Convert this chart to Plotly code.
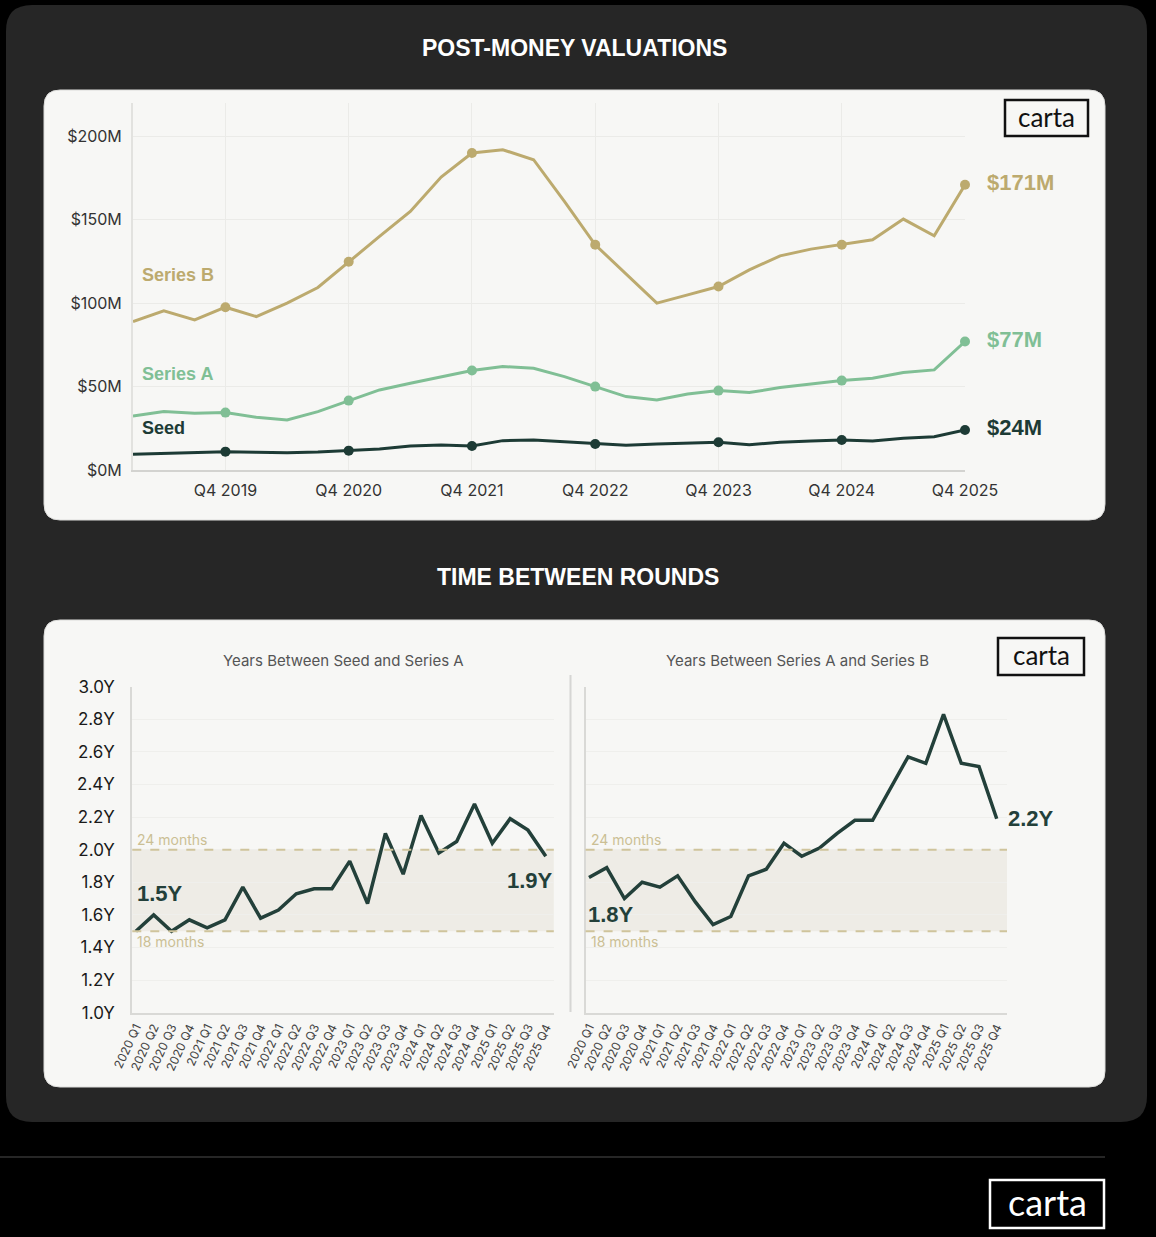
import plotly.graph_objects as go

W, H = 1156, 1237

# ---------------- DATA ----------------
top_quarters = ["Q1 2019", "Q2 2019", "Q3 2019", "Q4 2019",
                "Q1 2020", "Q2 2020", "Q3 2020", "Q4 2020",
                "Q1 2021", "Q2 2021", "Q3 2021", "Q4 2021",
                "Q1 2022", "Q2 2022", "Q3 2022", "Q4 2022",
                "Q1 2023", "Q2 2023", "Q3 2023", "Q4 2023",
                "Q1 2024", "Q2 2024", "Q3 2024", "Q4 2024",
                "Q1 2025", "Q2 2025", "Q3 2025", "Q4 2025"]
top_ticks = ["Q4 2019", "Q4 2020", "Q4 2021", "Q4 2022", "Q4 2023", "Q4 2024", "Q4 2025"]

seed_val = [9.4, 10, 10.6, 11, 10.6, 10.4, 10.8, 11.6, 12.6, 14.4, 15, 14.4, 17.6, 18,
            17, 15.6, 14.8, 15.6, 16, 16.6, 15.2, 16.6, 17.4, 18, 17.4, 19, 20, 24]
series_a_val = [32.4, 35, 34, 34.4, 31.6, 30, 35, 41.6, 48, 52, 56, 59.6, 62, 61,
                56, 50, 44, 42, 45.6, 47.6, 46.4, 49.4, 51.6, 53.6, 55, 58.4, 60, 77]
series_b_val = [89, 95.4, 90, 97.6, 92, 100, 109.4, 124.8, 140, 155, 175.6, 190, 192, 186,
                161, 135, 117.6, 100, 105, 110, 120, 128.4, 132.4, 135, 138, 150.4, 140.4, 171]

val_ticks = [0, 50, 100, 150, 200]
val_tick_text = ["$0M", "$50M", "$100M", "$150M", "$200M"]

bottom_quarters = ["2020 Q1", "2020 Q2", "2020 Q3", "2020 Q4",
                   "2021 Q1", "2021 Q2", "2021 Q3", "2021 Q4",
                   "2022 Q1", "2022 Q2", "2022 Q3", "2022 Q4",
                   "2023 Q1", "2023 Q2", "2023 Q3", "2023 Q4",
                   "2024 Q1", "2024 Q2", "2024 Q3", "2024 Q4",
                   "2025 Q1", "2025 Q2", "2025 Q3", "2025 Q4"]
seed_to_a_years = [1.50, 1.60, 1.50, 1.57, 1.52, 1.57, 1.77, 1.58, 1.63, 1.73, 1.76, 1.76,
                   1.93, 1.67, 2.10, 1.85, 2.21, 1.98, 2.05, 2.28, 2.04, 2.19, 2.12, 1.96]
a_to_b_years = [1.83, 1.89, 1.70, 1.80, 1.77, 1.84, 1.68, 1.54, 1.59, 1.84, 1.88, 2.04,
                1.96, 2.01, 2.10, 2.18, 2.18, 2.38, 2.57, 2.53, 2.83, 2.53, 2.51, 2.19]
year_ticks = [1.0, 1.2, 1.4, 1.6, 1.8, 2.0, 2.2, 2.4, 2.6, 2.8, 3.0]
year_tick_text = ["1.0Y", "1.2Y", "1.4Y", "1.6Y", "1.8Y", "2.0Y", "2.2Y", "2.4Y", "2.6Y", "2.8Y", "3.0Y"]
band_low, band_high = 1.5, 2.0

# ---------------- STYLE ----------------
C_B = "#bcaa6e"
C_A = "#80bf95"
C_SEED = "#1d3b35"
C_DARK = "#23403a"
C_CARD = "#f7f7f5"
C_GRID = "#ebebe8"
C_TAN_TXT = "#cbbf94"
SANS = "Inter"
BOLD = "Liberation Sans"


def fx(p):
    return p / W


def fy(p):
    return 1 - p / H


def rounded_rect(x0, y0, x1, y1, r):
    rx, ry = r / W, r / H
    X0, X1 = fx(x0), fx(x1)
    Y0, Y1 = fy(y0), fy(y1)  # Y0 top (larger), Y1 bottom
    return (f"M {X0+rx},{Y0} L {X1-rx},{Y0} Q {X1},{Y0} {X1},{Y0-ry} "
            f"L {X1},{Y1+ry} Q {X1},{Y1} {X1-rx},{Y1} L {X0+rx},{Y1} "
            f"Q {X0},{Y1} {X0},{Y1+ry} L {X0},{Y0-ry} Q {X0},{Y0} {X0+rx},{Y0} Z")


fig = go.Figure()

# ---- top chart traces ----
q4_idx = [i for i, q in enumerate(top_quarters) if q.startswith("Q4")]
for vals, col in [(series_b_val, C_B), (series_a_val, C_A), (seed_val, C_SEED)]:
    fig.add_trace(go.Scatter(x=top_quarters, y=vals, mode="lines",
                             line=dict(color=col, width=3), xaxis="x", yaxis="y",
                             showlegend=False, hoverinfo="skip", cliponaxis=False))
    fig.add_trace(go.Scatter(x=[top_quarters[i] for i in q4_idx], y=[vals[i] for i in q4_idx],
                             mode="markers", marker=dict(color=col, size=10),
                             xaxis="x", yaxis="y", showlegend=False, cliponaxis=False))

# ---- bottom charts ----
fig.add_trace(go.Scatter(x=bottom_quarters, y=seed_to_a_years, mode="lines",
                         line=dict(color=C_DARK, width=3.5), xaxis="x2", yaxis="y2",
                         showlegend=False))
fig.add_trace(go.Scatter(x=bottom_quarters, y=a_to_b_years, mode="lines",
                         line=dict(color=C_DARK, width=3.5), xaxis="x3", yaxis="y3",
                         showlegend=False))

shapes = []
# outer dark card
shapes.append(dict(type="path", xref="paper", yref="paper", layer="below",
                   path=rounded_rect(6, 5, 1147, 1122, 26), fillcolor="#262626", line=dict(width=0)))
# white cards
shapes.append(dict(type="path", xref="paper", yref="paper", layer="below",
                   path=rounded_rect(44, 90, 1105, 520, 16), fillcolor=C_CARD,
                   line=dict(color="#dcdcda", width=1)))
shapes.append(dict(type="path", xref="paper", yref="paper", layer="below",
                   path=rounded_rect(44, 620, 1105, 1087, 16), fillcolor=C_CARD,
                   line=dict(color="#dcdcda", width=1)))
# footer line
shapes.append(dict(type="line", xref="paper", yref="paper", x0=0, x1=fx(1105),
                   y0=fy(1157), y1=fy(1157), line=dict(color="#333333", width=1.5)))
# separator between bottom subplots
shapes.append(dict(type="line", xref="paper", yref="paper", x0=fx(570.5), x1=fx(570.5),
                   y0=fy(675), y1=fy(1012), line=dict(color="#d6d6d4", width=2)))
# logo boxes
shapes.append(dict(type="rect", xref="paper", yref="paper", x0=fx(1005), x1=fx(1088),
                   y0=fy(136), y1=fy(100), line=dict(color="#111111", width=2.5)))
shapes.append(dict(type="rect", xref="paper", yref="paper", x0=fx(998), x1=fx(1084),
                   y0=fy(675), y1=fy(638), line=dict(color="#111111", width=2.5)))
shapes.append(dict(type="rect", xref="paper", yref="paper", x0=fx(990), x1=fx(1104),
                   y0=fy(1228), y1=fy(1180), line=dict(color="#ffffff", width=2.5)))
# bands and dashed guide lines
for xa, ya in [("x2", "y2"), ("x3", "y3")]:
    shapes.append(dict(type="rect", xref=f"{xa} domain", yref=ya, x0=0, x1=1,
                       y0=band_low, y1=band_high, fillcolor="#eeece6", line=dict(width=0),
                       layer="below"))
    for yv in (band_low, band_high):
        shapes.append(dict(type="line", xref=f"{xa} domain", yref=ya, x0=0, x1=1,
                           y0=yv, y1=yv, line=dict(color="#cfc49c", width=2, dash="dash")))


def pann(text, x, y, font, xanchor="center"):
    return dict(text=text, xref="paper", yref="paper", x=fx(x), y=fy(y), xanchor=xanchor,
                yanchor="middle", showarrow=False, font=font)


ann = []
ann.append(pann("POST-MONEY VALUATIONS", 574, 48,
                dict(family=BOLD, size=23, color="white", weight="bold")))
ann.append(pann("TIME BETWEEN ROUNDS", 578, 577,
                dict(family=BOLD, size=23, color="white", weight="bold")))
# logos
ann.append(pann("carta", 1046.5, 117, dict(family="Lato", size=26, color="#111111")))
ann.append(pann("carta", 1041, 655, dict(family="Lato", size=26, color="#111111")))
ann.append(pann("carta", 1047, 1202, dict(family="Lato", size=36, color="#ffffff")))
# subplot titles
ann.append(pann("Years Between Seed and Series A", 343, 660,
                dict(family=SANS, size=15, color="#555555")))
ann.append(pann("Years Between Series A and Series B", 797, 660,
                dict(family=SANS, size=15, color="#555555")))
# series labels (top)
for txt, yv, col in [("Series B", 117, C_B), ("Series A", 57.6, C_A), ("Seed", 25.2, C_SEED)]:
    ann.append(dict(text=txt, xref="x", yref="y", x=top_quarters[0], y=yv, xanchor="left",
                    yanchor="middle", xshift=7, showarrow=False,
                    font=dict(family=BOLD, size=18, color=col, weight="bold")))
# end labels (top)
for txt, vals, col in [("$171M", series_b_val, C_B), ("$77M", series_a_val, C_A),
                       ("$24M", seed_val, C_SEED)]:
    ann.append(dict(text=txt, xref="x", yref="y", x=top_quarters[-1], y=vals[-1], xanchor="left",
                    yanchor="middle", xshift=20, yshift=2, showarrow=False,
                    font=dict(family=BOLD, size=22, color=col, weight="bold")))
# band labels
for xa, ya in [("x2", "y2"), ("x3", "y3")]:
    ann.append(dict(text="24 months", xref=f"{xa} domain", yref=ya, x=0, y=band_high,
                    xanchor="left", yanchor="bottom", xshift=3, yshift=0, showarrow=False,
                    font=dict(family=SANS, size=14, color=C_TAN_TXT)))
    ann.append(dict(text="18 months", xref=f"{xa} domain", yref=ya, x=0, y=band_low,
                    xanchor="left", yanchor="top", xshift=3, yshift=0, showarrow=False,
                    font=dict(family=SANS, size=14, color=C_TAN_TXT)))
# start / end value labels (bottom)
bfont = dict(family=BOLD, size=22, color=C_DARK, weight="bold")
ann.append(dict(text="1.5Y", xref="x2", yref="y2", x=bottom_quarters[0], y=1.73, xanchor="left",
                yanchor="middle", xshift=-1, showarrow=False, font=bfont))
ann.append(dict(text="1.9Y", xref="x2", yref="y2", x=bottom_quarters[-1], y=1.81, xanchor="right",
                yanchor="middle", xshift=9, showarrow=False, font=bfont))
ann.append(dict(text="1.8Y", xref="x3", yref="y3", x=bottom_quarters[0], y=1.60, xanchor="left",
                yanchor="middle", xshift=-3, showarrow=False, font=bfont))
ann.append(dict(text="2.2Y", xref="x3", yref="y3", x=bottom_quarters[-1], y=a_to_b_years[-1],
                xanchor="left", yanchor="middle", xshift=9, showarrow=False, font=bfont))

axis_font_top = dict(family=SANS, size=16, color="#333333")
bottom_x_common = dict(type="category", categoryorder="array", categoryarray=bottom_quarters,
                       tickmode="array", tickvals=bottom_quarters, ticktext=bottom_quarters,
                       tickangle=-65, tickfont=dict(family=SANS, size=12, color="#444444"),
                       showgrid=False, showline=True, linecolor="#d9d9d6", linewidth=2,
                       ticks="", zeroline=False, ticklabelstandoff=1, automargin=False)

fig.update_layout(
    template="none",
    width=W, height=H, autosize=False,
    margin=dict(l=0, r=0, t=0, b=0, pad=0),
    paper_bgcolor="#000000", plot_bgcolor="rgba(0,0,0,0)",
    shapes=shapes, annotations=ann, showlegend=False,
    xaxis=dict(domain=[fx(133), fx(965)], anchor="y", type="category",
               categoryorder="array", categoryarray=top_quarters, range=[0, 27],
               tickmode="array", tickvals=top_ticks, ticktext=top_ticks,
               tickfont=axis_font_top, showgrid=True, gridcolor=C_GRID, gridwidth=1,
               showline=True, linecolor="#d3d3d0", linewidth=2, ticks="",
               ticklabelstandoff=5, zeroline=False, automargin=False),
    yaxis=dict(domain=[fy(470), fy(103)], anchor="x", range=[0, 220],
               tickmode="array", tickvals=val_ticks, ticktext=val_tick_text,
               tickfont=axis_font_top, showgrid=True, gridcolor=C_GRID, gridwidth=1,
               showline=True, linecolor="#e2e2df", linewidth=2, ticks="",
               ticklabelstandoff=6, zeroline=False, automargin=False),
    xaxis2=dict(domain=[fx(132.3), fx(553.8)], anchor="y2", range=[-0.2, 23.45], **bottom_x_common),
    yaxis2=dict(domain=[fy(1012.7), fy(686.7)], anchor="x2", range=[1.0, 3.0],
                tickmode="array", tickvals=year_ticks, ticktext=year_tick_text,
                tickfont=dict(family=SANS, size=17, color="#1a1a1a"),
                showgrid=True, gridcolor="#efefec", showline=True, linecolor="#d9d9d6",
                linewidth=2, ticks="", ticklabelstandoff=12, zeroline=False, automargin=False),
    xaxis3=dict(domain=[fx(585.6), fx(1007)], anchor="y3", range=[-0.19, 23.58], **bottom_x_common),
    yaxis3=dict(domain=[fy(1012.7), fy(686.7)], anchor="x3", range=[1.0, 3.0],
                tickmode="array", tickvals=year_ticks, showticklabels=False,
                showgrid=True, gridcolor="#efefec", showline=True, linecolor="#d9d9d6",
                linewidth=2, ticks="", zeroline=False, automargin=False),
)

fig.write_html("out.html", config={"displayModeBar": False},
               post_script="document.body.style.margin='0';document.body.style.background='#000';")
